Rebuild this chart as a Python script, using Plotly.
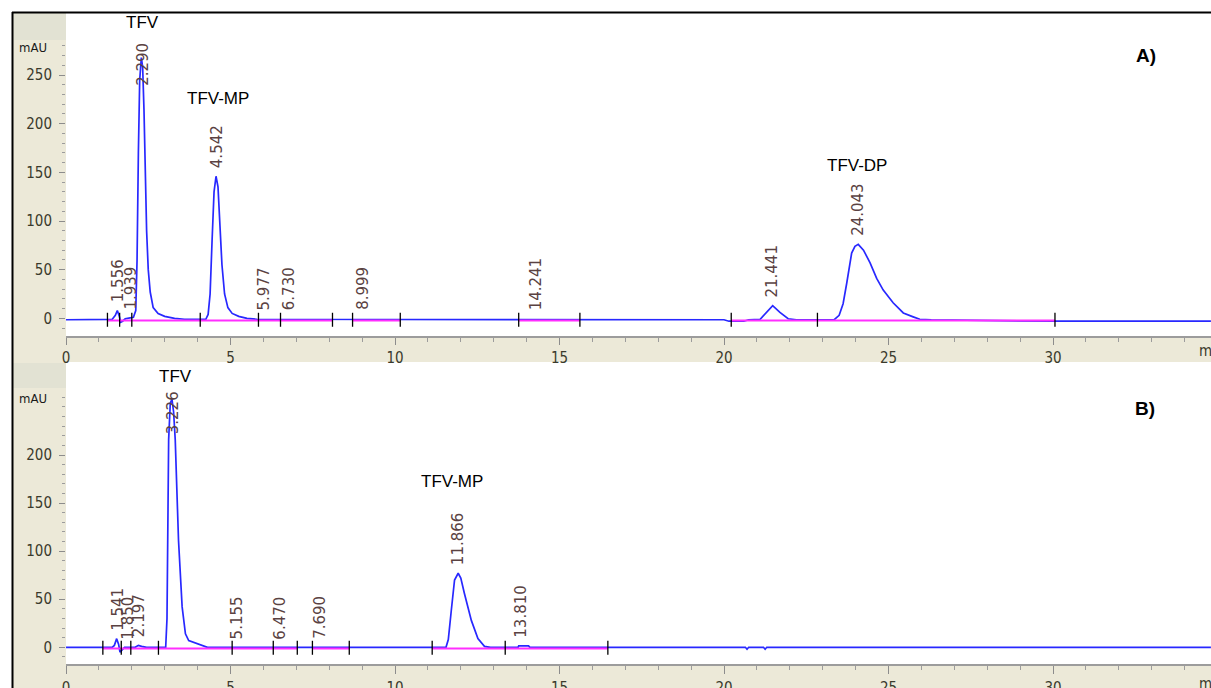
import plotly.graph_objects as go

W, H = 1211, 688

# ---------------- data: panel A ----------------
a_time = [0, 1.25, 1.40, 1.50, 1.56, 1.62, 1.66, 1.72, 1.80, 1.95, 2.05, 2.12, 2.16, 2.20, 2.24, 2.29,
          2.33, 2.37, 2.41, 2.45, 2.50, 2.56, 2.65, 2.80, 3.00, 3.30, 3.60, 4.10, 4.25, 4.32, 4.38,
          4.44, 4.50, 4.56, 4.62, 4.68, 4.74, 4.82, 4.92, 5.05, 5.25, 5.50, 5.80, 20.0, 20.15, 20.6,
          20.75, 21.10, 21.30, 21.48, 21.70, 21.95, 22.2, 23.35, 23.50, 23.62, 23.73, 23.88, 23.98,
          24.08, 24.24, 24.44, 24.64, 24.84, 25.14, 25.45, 25.75, 25.95, 26.3, 27.7, 30.0, 34.8]
a_signal = [-1.5, -1.5, -1.2, 3, 8, 2, -4, -3, -0.5, 0.5, 1, 8, 60, 170, 245, 268,
            258, 215, 150, 90, 50, 27, 11, 5, 2, 0, -1, -1.5, -1, 4, 25,
            80, 130, 146, 135, 95, 55, 25, 11, 5, 2, 0, -1, -1.5, -3, -3,
            -1.5, -1, 7, 13, 6, -0.5, -1.5, -1.5, 3, 15, 36, 67, 74,
            76, 70, 57, 41, 29, 16, 5.5, 1.5, -1, -1.5, -2, -3, -3]
a_rt_labels = ["1.556", "1.939", "2.290", "4.542", "5.977", "6.730", "8.999", "14.241", "21.441", "24.043"]
a_marks = [1.26, 1.63, 2.0, 4.08, 5.85, 6.52, 8.1, 8.71, 10.16, 13.76, 15.62, 20.22, 22.84, 30.06]
a_base_start = [1.26, 8.71, 13.76, 20.24]
a_base_end = [8.10, 10.16, 15.62, 30.06]
a_compounds = ["TFV", "TFV-MP", "TFV-DP"]

# ---------------- data: panel B ----------------
b_time = [0, 1.40, 1.47, 1.54, 1.60, 1.64, 1.70, 1.78, 2.10, 2.20, 2.30, 2.45, 3.03, 3.07, 3.12,
          3.17, 3.22, 3.27, 3.32, 3.42, 3.53, 3.63, 3.73, 3.98, 4.14, 4.30, 11.55, 11.62, 11.71,
          11.81, 11.92, 12.00, 12.11, 12.32, 12.52, 12.72, 12.90, 13.74, 13.76, 14.06, 14.10,
          20.65, 20.70, 20.75, 21.20, 21.25, 21.30, 34.8]
b_signal = [0, 0, 2, 9, 3, -5, -3, 0, 0, 2, 1, 0, 0, 30, 216,
            254, 258, 245, 216, 111, 42, 14, 7, 4, 2, 0, 0, 8, 38,
            70, 77, 72, 56, 28, 9, 1, 0, 0, 1.5, 1.5, 0,
            0, -2, 0, 0, -2, 0, 0]
b_rt_labels = ["1.541", "1.850", "2.197", "3.226", "5.155", "6.470", "7.690", "11.866", "13.810"]
b_marks = [1.12, 1.68, 1.97, 2.81, 5.05, 6.30, 7.03, 7.49, 8.61, 11.13, 13.35, 16.47]
b_base_start = [1.12, 7.49, 11.13]
b_base_end = [7.03, 8.61, 16.47]
b_compounds = ["TFV", "TFV-MP"]

a_y_major = [0, 50, 100, 150, 200, 250]
b_y_major = [0, 50, 100, 150, 200]
a_minor = [v for v in range(-10, 290, 10) if v % 50]
b_minor = [v for v in range(-10, 270, 10) if v % 50 or v > 200]
x_major = [0, 5, 10, 15, 20, 25, 30]

# ---------------- styling ----------------
BEIGE = "#ECE9D8"
BLOCK = "#E2E2D3"
BLUE = "#2828FF"
MAGENTA = "#FF2EFF"
TICKFONT = dict(family="Liberation Sans Narrow, DejaVu Sans Condensed, Arial Narrow, sans-serif",
                size=15, color="#3a3a2c")
RTFONT = dict(family="DejaVu Sans, sans-serif", size=15, color="#5a4242")
BIGFONT = dict(family="Liberation Sans, Arial, sans-serif", size=17, color="black")


def px(xp):
    return xp / W


def py(yp):
    return 1 - yp / H


PX0 = 66
PXPM = 32.9
XMAX = (W - PX0) / PXPM

# panel geometry (pixels)
A_TOP, A_BOT, A_ZERO, A_SCALE = 13, 336, 318.3, 0.973
B_TOP, B_BOT, B_ZERO, B_SCALE = 362, 664, 647.3, 0.9615

a_range = [-(A_BOT - A_ZERO) / A_SCALE, (A_ZERO - A_TOP) / A_SCALE]
b_range = [-(B_BOT - B_ZERO) / B_SCALE, (B_ZERO - B_TOP) / B_SCALE]

fig = go.Figure()


def add_panel(time, signal, bstart, bend, marks, xa, ya, base_y, mark_y):
    fig.add_trace(go.Scatter(x=time, y=signal, mode="lines", line=dict(color=BLUE, width=1.7),
                             xaxis=xa, yaxis=ya, hoverinfo="skip"))
    bx, by = [], []
    for s, e in zip(bstart, bend):
        bx += [s, e, None]
        by += [base_y, base_y, None]
    fig.add_trace(go.Scatter(x=bx, y=by, mode="lines", line=dict(color=MAGENTA, width=2),
                             xaxis=xa, yaxis=ya, hoverinfo="skip"))
    fig.add_trace(go.Scatter(x=marks, y=[mark_y] * len(marks), mode="markers",
                             marker=dict(symbol="line-ns", size=10, line=dict(width=1.3, color="black")),
                             xaxis=xa, yaxis=ya, hoverinfo="skip"))


add_panel(a_time, a_signal, a_base_start, a_base_end, a_marks, "x", "y", -2.2, -1.5)
add_panel(b_time, b_signal, b_base_start, b_base_end, b_marks, "x2", "y2", -1.2, -0.5)


def apex(time, signal, t):
    vals = [s for tt, s in zip(time, signal) if abs(tt - t) <= 0.12]
    return max(vals) if vals else 0


annotations = []


def rt_labels(labels, time, signal, xref, yref, top_limit):
    for lab in labels:
        t = float(lab)
        h = apex(time, signal, t)
        if h > 200:
            annotations.append(dict(x=t, y=top_limit, xref=xref, yref=yref, text=lab, textangle=-90,
                                    showarrow=False, xanchor="center", yanchor="top", font=RTFONT,
                                    xshift=1))
        else:
            annotations.append(dict(x=t, y=max(h, -1), xref=xref, yref=yref, text=lab, textangle=-90,
                                    showarrow=False, xanchor="center", yanchor="bottom", font=RTFONT,
                                    yshift=6, xshift=1))


rt_labels(a_rt_labels, a_time, a_signal, "x", "y", 285)
rt_labels(b_rt_labels, b_time, b_signal, "x2", "y2", 268)

# compound names
for name, (cx, cy) in zip(a_compounds, [(142, 22), (218, 98), (857, 165)]):
    annotations.append(dict(x=px(cx), y=py(cy), xref="paper", yref="paper", text=name, showarrow=False,
                            xanchor="center", yanchor="middle", font=BIGFONT))
for name, (cx, cy) in zip(b_compounds, [(175, 376), (452, 481)]):
    annotations.append(dict(x=px(cx), y=py(cy), xref="paper", yref="paper", text=name, showarrow=False,
                            xanchor="center", yanchor="middle", font=BIGFONT))

for txt, (cx, cy) in [("A)", (1146, 55)), ("B)", (1145, 409))]:
    annotations.append(dict(x=px(cx), y=py(cy), xref="paper", yref="paper", text="<b>%s</b>" % txt,
                            showarrow=False, xanchor="center", yanchor="middle",
                            font=dict(family="Liberation Sans, Arial, sans-serif", size=19, color="black")))

for cy in (47, 398):
    annotations.append(dict(x=px(33), y=py(cy), xref="paper", yref="paper", text="mAU", showarrow=False,
                            xanchor="center", yanchor="middle",
                            font=dict(family=TICKFONT["family"], size=13, color="#1a1a1a")))
for cy in (351, 684):
    annotations.append(dict(x=px(1197), y=py(cy), xref="paper", yref="paper", text="min", showarrow=False,
                            xanchor="left", yanchor="middle", font=TICKFONT))

shapes = [
    dict(type="rect", xref="paper", yref="paper", x0=px(13), x1=px(PX0), y0=0, y1=py(13),
         fillcolor=BEIGE, line=dict(width=0), layer="below"),
    dict(type="rect", xref="paper", yref="paper", x0=px(13), x1=px(PX0), y0=py(40), y1=py(13),
         fillcolor=BLOCK, line=dict(width=0), layer="below"),
    dict(type="rect", xref="paper", yref="paper", x0=px(13), x1=px(PX0), y0=py(388), y1=py(363),
         fillcolor=BLOCK, line=dict(width=0), layer="below"),
    dict(type="rect", xref="paper", yref="paper", x0=px(PX0), x1=1, y0=py(B_TOP), y1=py(A_BOT),
         fillcolor=BEIGE, line=dict(width=0), layer="below"),
    dict(type="rect", xref="paper", yref="paper", x0=px(PX0), x1=1, y0=0, y1=py(B_BOT),
         fillcolor=BEIGE, line=dict(width=0), layer="below"),
    dict(type="line", xref="paper", yref="paper", x0=px(12.5), x1=px(12.5), y0=0, y1=py(12),
         line=dict(color="black", width=2)),
    dict(type="line", xref="paper", yref="paper", x0=px(12), x1=1, y0=py(12.5), y1=py(12.5),
         line=dict(color="black", width=2)),
]


def xaxis_def(anchor, standoff, ticklen):
    return dict(domain=[px(PX0), 1], range=[0, XMAX], anchor=anchor, tickmode="array", tickvals=x_major,
                ticks="outside", ticklen=ticklen, tickwidth=1, tickcolor="#8c8c8c", showgrid=False,
                zeroline=False, showline=True, linecolor="#9c9c9c", linewidth=2, tickfont=TICKFONT,
                ticklabelstandoff=standoff, automargin=False,
                minor=dict(dtick=1, ticks="outside", ticklen=4, tickcolor="#9c9c9c", showgrid=False))


def yaxis_def(anchor, dom, rng, major_vals, minor_vals):
    return dict(domain=dom, range=rng, anchor=anchor, tickmode="array", tickvals=major_vals, ticks="outside",
                ticklen=6, tickwidth=1, tickcolor="#8c8c8c", showgrid=False, zeroline=False, showline=False,
                tickfont=TICKFONT, ticklabelstandoff=4, automargin=False,
                minor=dict(tickmode="array", tickvals=minor_vals, ticks="outside", ticklen=3,
                           tickcolor="#9c9c9c", showgrid=False))


fig.update_layout(
    width=W, height=H, margin=dict(l=0, r=0, t=0, b=0, autoexpand=False), paper_bgcolor="white",
    plot_bgcolor="white", showlegend=False, autosize=False,
    xaxis=xaxis_def("y", 0, 7),
    yaxis=yaxis_def("x", [py(A_BOT), py(A_TOP)], a_range, a_y_major, a_minor),
    xaxis2=xaxis_def("y2", 1, 8),
    yaxis2=yaxis_def("x2", [py(B_BOT), py(B_TOP)], b_range, b_y_major, b_minor),
    annotations=annotations, shapes=shapes,
)

fig.write_html("out.html", config={"displayModeBar": False})
